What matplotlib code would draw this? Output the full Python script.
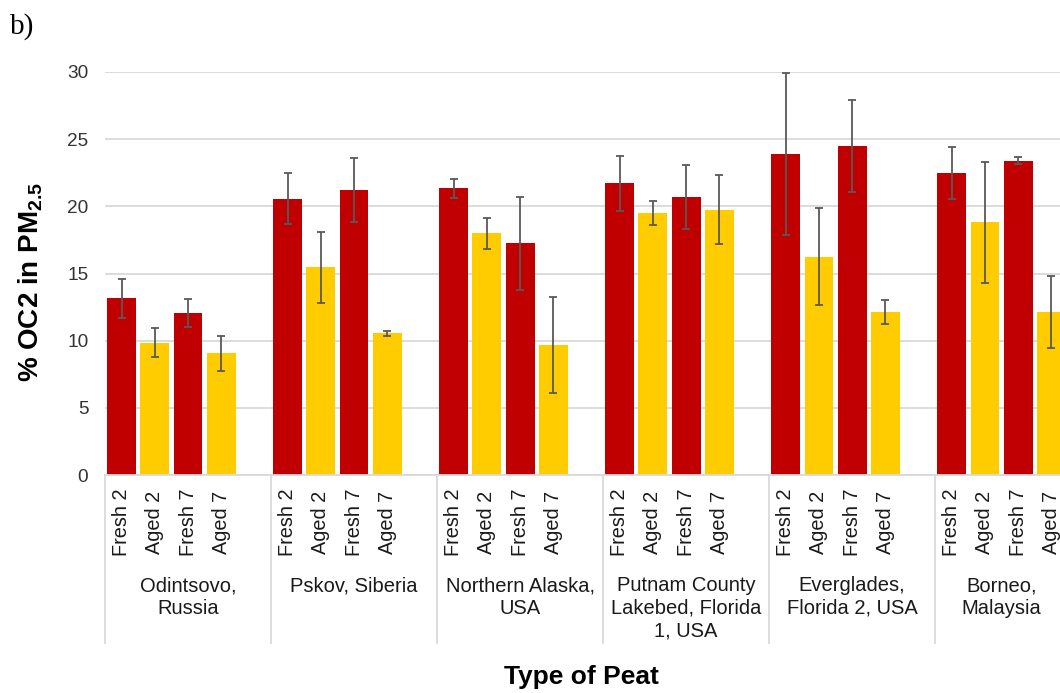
import matplotlib
matplotlib.use("Agg")
import matplotlib.pyplot as plt
import matplotlib.transforms as mtransforms

# Peat types (group labels) and burn/aging samples within each group
peat_types = [
    "Odintsovo,\nRussia",
    "Pskov, Siberia",
    "Northern Alaska,\nUSA",
    "Putnam County\nLakebed, Florida\n1, USA",
    "Everglades,\nFlorida 2, USA",
    "Borneo,\nMalaysia",
]
samples = ["Fresh 2", "Aged 2", "Fresh 7", "Aged 7"]

# % OC2 in PM2.5 (mean) and error bar half-widths
fresh2 = [13.15, 20.55, 21.35, 21.70, 23.90, 22.45]
aged2 = [9.85, 15.45, 18.00, 19.50, 16.25, 18.80]
fresh7 = [12.05, 21.20, 17.25, 20.70, 24.50, 23.40]
aged7 = [9.05, 10.55, 9.70, 19.75, 12.15, 12.15]

fresh2_err = [1.45, 1.90, 0.70, 2.07, 6.00, 1.93]
aged2_err = [1.10, 2.65, 1.15, 0.87, 3.60, 4.50]
fresh7_err = [1.05, 2.40, 3.45, 2.37, 3.43, 0.25]
aged7_err = [1.28, 0.17, 3.57, 2.57, 0.90, 2.70]

yticks = [0, 5, 10, 15, 20, 25, 30]

RED = "#C00000"
YELLOW = "#FFCC00"
GRID = "#D9D9D9"
ERR = "#595959"
TXT = "#1a1a1a"

plt.rcParams["font.family"] = ["Liberation Sans", "DejaVu Sans"]
plt.rcParams["mathtext.fontset"] = "custom"
plt.rcParams["mathtext.rm"] = "Liberation Sans:bold"
plt.rcParams["mathtext.bf"] = "Liberation Sans:bold"
plt.rcParams["mathtext.it"] = "Liberation Sans:bold"

W, H = 1060, 693
fig = plt.figure(figsize=(W / 100, H / 100), dpi=100)
ax = fig.add_axes([105 / W, 218 / H, 963 / W, 403 / H])

series = [
    (fresh2, fresh2_err, RED),
    (aged2, aged2_err, YELLOW),
    (fresh7, fresh7_err, RED),
    (aged7, aged7_err, YELLOW),
]

slots_per_group = 5
for i, (vals, errs, color) in enumerate(series):
    xs = [g * slots_per_group + i + 0.5 for g in range(len(peat_types))]
    ax.bar(xs, vals, width=0.87, color=color, zorder=2)
    ax.errorbar(xs, vals, yerr=errs, fmt="none", ecolor=ERR, elinewidth=1.3,
                capsize=3, capthick=1.3, zorder=3)

n_slots = len(peat_types) * slots_per_group - 1
ax.set_xlim(0, n_slots)
ax.set_ylim(0, 30)
ax.set_yticks(yticks)
ax.set_yticklabels([str(t) for t in yticks], fontsize=13.7, color="#333333")
ax.tick_params(axis="y", length=0, pad=12)
ax.set_xticks([])

ax.grid(axis="y", color=GRID, linewidth=1.3, zorder=0)
for side in ["left", "right", "top"]:
    ax.spines[side].set_visible(False)
ax.spines["bottom"].set_color(GRID)
ax.spines["bottom"].set_linewidth(1.3)

trans = mtransforms.blended_transform_factory(ax.transData, ax.transAxes)
axis_px = 403.0

# sample labels under each bar
for g in range(len(peat_types)):
    for i, s in enumerate(samples):
        x = g * slots_per_group + i + 0.5
        ax.text(x, -(522 - 475) / axis_px, s, transform=trans, rotation=90,
                ha="center", va="center", fontsize=14.3, color=TXT,
                clip_on=False)

# group labels and separators
for g, name in enumerate(peat_types):
    start = g * slots_per_group
    end = min(start + slots_per_group, n_slots)
    ax.text((start + end) / 2, -(576 - 475) / axis_px, name, transform=trans,
            ha="center", va="top", fontsize=14.5, color=TXT,
            linespacing=1.24, multialignment="center", clip_on=False)
    ax.plot([start, start], [0, -(643 - 475) / axis_px], transform=trans,
            color=GRID, linewidth=1.3, clip_on=False)
ax.plot([n_slots, n_slots], [0, -(643 - 475) / axis_px], transform=trans,
        color=GRID, linewidth=1.3, clip_on=False)

# axis titles
fig.text(31 / W, 1 - 282.5 / H, r"% OC2 in PM$_{\mathbf{2.5}}$", rotation=90,
         ha="center", va="center", fontsize=20, fontweight="bold", color="black")
fig.text(581.5 / W, 1 - 677 / H, "Type of Peat", ha="center", va="center",
         fontsize=19, fontweight="bold", color="black")

# panel letter
fig.text(10 / W, 1 - 34 / H, "b)", ha="left", va="baseline",
         fontsize=21, family=["Liberation Serif", "DejaVu Serif"], color="black")

fig.savefig("out.png", dpi=100)
